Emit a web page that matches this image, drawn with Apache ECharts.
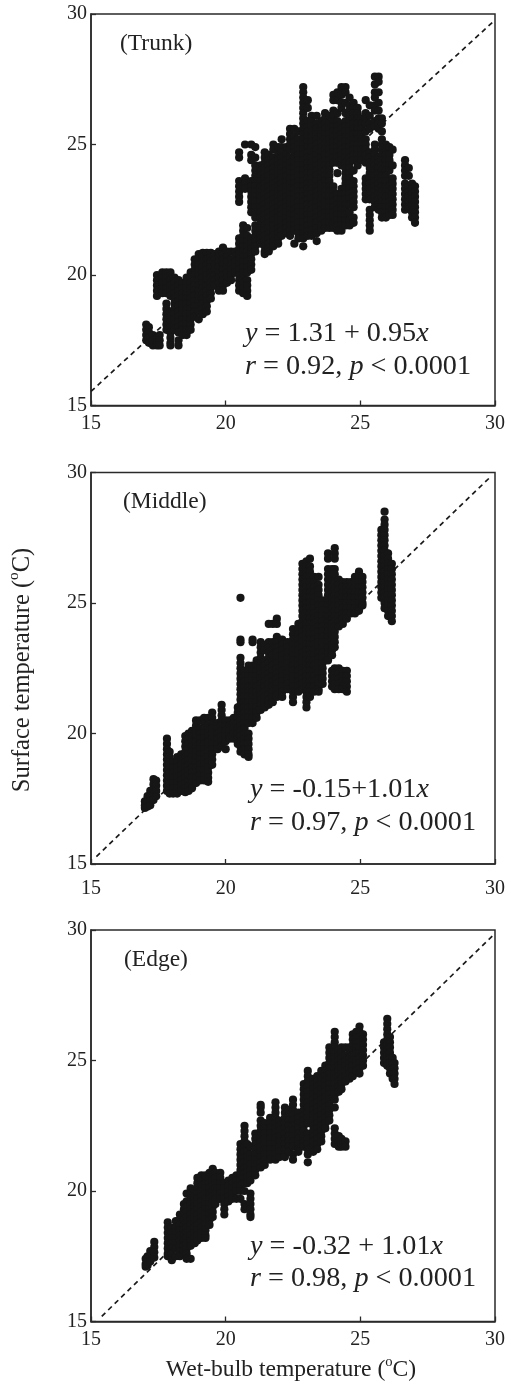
<!DOCTYPE html>
<html><head><meta charset="utf-8">
<style>html,body{margin:0;padding:0;background:#fff}#c{width:511px;height:1385px}</style>
<script src="https://cdn.jsdelivr.net/npm/echarts@6/dist/echarts.min.js"></script>
</head><body><div id="c"></div>
<script>
const axisTicks = [15, 20, 25, 30];
const panelNames = ['(Trunk)', '(Middle)', '(Edge)'];
const yName = 'Surface temperature (';
const xName = 'Wet-bulb temperature (';
const eqTexts = [
  ['{i|y} = 1.31 + 0.95{i|x}', '{i|r} = 0.92, {i|p} < 0.0001'],
  ['{i|y} = -0.15+1.01{i|x}', '{i|r} = 0.97, {i|p} < 0.0001'],
  ['{i|y} = -0.32 + 1.01{i|x}', '{i|r} = 0.98, {i|p} < 0.0001']
];
const trunkLine = [[15, 15.54], [30, 29.77]];
const middleLine = [[15.2, 15.28], [29.85, 29.85]];
const edgeLine = [[15.4, 15.2], [30, 29.87]];

const trunkColumns = [
[17.05,[18.1,17.9,17.7,17.5]],[17.15,[18,17.8,17.6,17.4]],[17.3,[17.7,17.5,17.3]],
[17.45,[20,19.8,19.6,19.4,19.2,17.6,17.4,17.3]],[17.55,[17.7,17.5,17.3]],
[17.65,[20.1,19.9,19.7,19.5,19.3]],
[17.8,[20.1,19.9,19.7,19.5,19.3,18.9,18.7,18.5,18.3,18.1,17.9]],
[17.95,[20.1,19.8,19.6,19.4,19.2,18.6,18.4,18.2,18,17.8,17.6,17.4,17.3]],
[18.1,[19.9,19.7,19.5,19.3,19.1,18.9,18.7,18.5,18.3,18.1,17.9]],
[18.25,[19.8,19.6,19.4,19.2,19,18.8,18.6,18.4,18.2,18,17.8,17.5,17.3]],
[18.4,[19.7,19.5,19.3,19.1,18.9,18.7,18.5,18.3,18.1,17.9,17.7]],
[18.55,[19.9,19.7,19.5,19.3,19.1,18.9,18.7,18.5,18.3,18.1,17.9,17.7]],
[18.7,[20.1,19.9,19.7,19.5,19.3,19.1,18.9,18.7,18.5,18.3,18.1,17.9]],
[18.85,[20.6,20.4,20.2,20,19.8,19.6,19.4,19.2,19,18.8,18.6,18.4]],
[19,[20.8,20.6,20.4,20.2,20,19.8,19.6,19.4,19.2,19,18.8,18.6,18.3]],
[19.15,[20.85,20.7,20.5,20.3,20.1,19.9,19.7,19.5,19.3,19.1,18.9,18.7,18.5]],
[19.3,[20.85,20.6,20.4,20.2,20,19.8,19.6,19.4,19.2,19,18.8,18.6]],
[19.45,[20.85,20.7,20.5,20.3,20.1,19.9,19.7,19.5,19.3,19.1]],
[19.6,[20.8,20.6,20.4,20.2,20,19.8,19.6]],
[19.75,[20.9,20.7,20.5,20.3,20.1,19.9,19.7,19.4]],
[19.9,[21.05,20.8,20.6,20.4,20.2,20,19.8,19.6,19.4]],
[20.05,[20.9,20.7,20.5,20.3,20.1,19.9,19.7]],
[20.2,[20.9,20.6,20.4,20.2,20,19.8]],
[20.35,[20.9,20.7,20.5,20.3,20.1]],
[20.5,[24.7,24.5,23.6,23.4,23.2,23,22.8,21.4,21.2,21,20.8,20.6,20.4,20.2,20,19.8,19.6,19.4]],
[20.65,[21.9,21.7,21.5,21.3,21.1,20.9,20.7,20.5,20.3,20.1,19.9,19.7,19.5,19.3]],
[20.72,[25,23.7,23.5,23.3]],
[20.8,[21.8,21.5,21.3,21.1,20.9,20.7,20.5,20.3,20.1,19.8,19.6,19.4,19.2]],
[20.95,[25,24.6,24.4,23.6,23.4,23.2,23,22.8,22.6,22.4,21.4,21.2,21,20.8,20.6,20.4,20.2]],
[21.1,[24.9,24.5,24.2,24,23.8,23.6,23.4,23.2,23,22.8,22.6,22.4,22.2,21.9,21.7,21.5,21.3,21.1,20.9]],
[21.3,[24.2,24,23.8,23.6,23.4,23.2,23,22.8,22.6,22.4,22.2,22,21.8,21.6,21.4,21.2]],
[21.45,[24.7,24.5,24.3,24.1,23.9,23.7,23.5,23.3,23.1,22.9,22.7,22.5,22.3,22.1,21.9,21.7,21.5,21.3,21.1,20.9,20.8]],
[21.6,[24.6,24.4,24.2,24,23.8,23.6,23.4,23.2,23,22.8,22.6,22.4,22.2,22,21.8,21.6,21.4,21.2,21,20.9]],
[21.77,[25,24.8,24.5,24.3,24.1,23.9,23.7,23.5,23.3,23.1,22.9,22.7,22.5,22.3,22.1,21.9,21.7,21.5,21.3,21.1]],
[21.95,[24.9,24.6,24.4,24.2,24,23.8,23.6,23.4,23.2,23,22.8,22.6,22.4,22.2,22,21.8,21.6,21.4,21.2]],
[22.08,[25.2,24.9,24.7,24.5,24.3,24.1,23.9,23.7,23.5,23.3,23.1,22.9,22.7,22.5,22.3,22.1,21.9,21.7,21.5]],
[22.25,[24.9,24.6,24.4,24.2,24,23.8,23.6,23.4,23.2,23,22.8,22.6,22.4,22.2,22,21.8,21.6]],
[22.39,[25.6,25.4,25.2,25,24.8,24.5,24.3,24.1,23.9,23.7,23.5,23.3,23.1,22.9,22.7,22.5,22.3,22.1,21.9,21.7,21.5]],
[22.55,[25.6,25.3,25.1,24.9,24.7,24.5,24.3,24.1,23.9,23.7,23.5,23.3,23.1,22.9,22.7,22.5,22.3,22.1,21.9,21.7,21.2]],
[22.7,[25.5,25.2,25,24.8,24.6,24.4,24.2,24,23.8,23.6,23.4,23.2,23,22.8,22.6,22.4,22.2,22,21.8,21.6,21.4]],
[22.88,[27.2,27,26.8,26.6,26.4,26.2,26,25.8,25.6,25.4,25.2,25,24.8,24.6,24.4,24.2,24,23.8,23.6,23.4,23.2,23,22.8,22.6,22.4,22.2,22,21.8,21.6,21.4,21.1]],
[23.05,[26.7,26.4,25.9,25.7,25.5,25.3,25.1,24.9,24.7,24.5,24.3,24.1,23.9,23.7,23.5,23.3,23.1,22.9,22.7,22.5,22.3,22.1,21.9,21.7,21.5]],
[23.19,[26.1,25.9,25.7,25.5,25.3,25.1,24.9,24.7,24.5,24.3,24.1,23.9,23.7,23.5,23.3,23.1,22.9,22.7,22.5,22.3,22.1,21.9,21.7,21.5]],
[23.38,[26.1,25.8,25.6,25.4,25.2,25,24.8,24.6,24.4,24.2,24,23.8,23.6,23.4,23.2,23,22.8,22.6,22.4,22.2,22,21.8,21.6,21.3]],
[23.55,[25.9,25.7,25.5,25.3,25.1,24.9,24.7,24.5,24.3,24.1,23.9,23.7,23.5,23.3,23.1,22.9,22.7,22.5,22.3,22.1,21.9,21.7]],
[23.69,[26.2,26,25.8,25.6,25.4,25.2,25,24.8,24.6,24.4,24.2,24,23.8,23.6,23.4,23.2,23,22.8,22.6,22.4,22.2,22,21.8]],
[23.85,[26.1,25.8,25.6,25.4,25.2,25,24.8,24.6,24.4,24.2,24,23.8,23.6,23.4,23.2,23,22.8,22.6,22.4,22.2,22,21.8]],
[24,[26.9,26.7,26.3,26.1,25.9,25.7,25.5,25.3,25.1,24.9,24.7,24.5,24.3,23.4,23.2,23,22.8,22.6,22.4,22.2,22,21.8]],
[24.15,[27,26.7,26.2,25.9,25.7,25.5,25.3,25.1,24.9,24.7,24.5,24.3,23.9,23.1,22.9,22.7,22.5,22.3,22.1,21.9,21.7]],
[24.3,[27.2,26.9,26.6,26.4,25.8,25.6,25.4,25.2,25,24.8,24.6,24.4,24.2,23.3,23.1,22.9,22.7,22.5,22.3,22.1,21.9,21.7]],
[24.45,[27.2,27,26.6,26.2,25.9,25.7,25.5,25.3,25.1,24.9,24.7,24.5,24.3,24.1,23.9,23.7,23.5,23.3,23.1,22.9,22.7,22.5,22.3,22.1,21.9]],
[24.6,[26.8,26.5,26.3,26.1,25.9,25.7,25.5,25.3,25.1,24.9,24.7,24.5,24.3,24.1,23.9,23.7,23.5,23.3,23.1,22.9,22.7,22.4,22.1,21.9]],
[24.75,[26.6,26.4,26.2,26,25.8,25.6,25.4,25.2,25,24.8,24.6,24.4,24,23.6,23.4,23.2,23,22.8,22.6,22.2,22]],
[24.9,[26.4,26.2,26,25.8,25.6,25.4,25.2,25,24.8,24.6,24.4,24.2]],
[25.05,[26,25.8,25.6,25.4,25.2,25,24.8,24.6,24.4]],
[25.2,[26.7,26.2,26,25.8,25.5,25.2,25,24.8,24.6,24.3,23.7,23.5,23.3,23.1,22.9]],
[25.35,[26.5,26.1,25.8,25.6,24.7,24.5,24.3,24.1,23.9,23.7,23.5,23.3,23.1,22.9,22.5,22.3,22.1,21.9,21.7]],
[25.54,[27.6,27.3,27,26.8,26.5,26.3,25.9,25.7,25,24.8,24.6,24.4,24.2,24,23.8,23.6,23.4,23.2,23,22.8,22.6]],
[25.68,[27.6,27.4,27,26.6,26.3,26,25.8,25.6,24.5,24.3,24.1,23.9,23.7,23.5,23.3,23.1,22.9,22.7,22.5]],
[25.8,[26,25.8,25.5,25.2,25,24.8,24.6,24.4,24.2,24,23.8,23.6,23.4,23.2,23,22.8,22.6,22.4,22.2]],
[25.95,[25,24.8,24.6,24.4,24.2,24,23.8,23.6,23.4,23.2,23,22.8,22.6,22.4,22.2]],
[26.08,[24.9,24.6,24.4,24.2,24,23.4,23.2,23,22.8,22.6,22.4,22.3]],
[26.2,[24.8,24.2,23.7,23.5,23.3,23.1,22.9,22.7,22.5,22.3]],
[26.66,[24.4,24.2,24,23.8,23.5,23.3,23.1,22.9,22.7,22.5]],
[26.8,[24.1,23.8,23.4,23.2,23,22.8,22.6]],
[26.92,[23.5,23.3,23.1,22.9,22.7,22.4,22.2]],
[27.03,[23.4,23.2,23,22.8,22.6,22.4,22.2,22]]
];

const middleColumns = [
[17,[17.4,17.25,17.15]],[17.1,[17.6,17.4,17.2]],[17.2,[17.8,17.6,17.4,17.25]],
[17.32,[18.25,18.05,17.85,17.65,17.45]],[17.42,[18.2,18,17.8,17.6]],
[17.82,[19.8,19.6,19.4,19.2,19,18.8,18.6,18.4,18.2,18,17.8]],
[17.92,[19.3,19.1,18.9,18.7,18.5,18.3,18.1,17.9,17.7]],
[18.05,[18.9,18.7,18.5,18.3,18.1,17.9,17.7]],
[18.2,[19.1,18.9,18.7,18.5,18.3,18.1,17.9,17.7]],
[18.35,[19.2,19,18.8,18.6,18.4,18.2,18,17.8]],
[18.5,[19.9,19.7,19.5,19.3,19.1,18.9,18.7,18.5,18.3,18.1,17.9,17.75]],
[18.62,[20,19.8,19.6,19.4,19.2,19,18.8,18.6,18.4,18.2,18,17.8]],
[18.75,[20.1,19.9,19.7,19.5,19.3,19.1,18.9,18.7,18.5,18.3,18.1,17.9]],
[18.9,[20.5,20.3,20.1,19.9,19.7,19.5,19.3,19.1,18.9,18.7,18.5,18.3,18.1]],
[19.05,[20.5,20.2,20,19.8,19.6,19.4,19.2,19,18.8,18.6,18.4,18.2]],
[19.2,[20.6,20.4,20.2,20,19.8,19.6,19.4,19.2,19,18.8,18.6,18.4,18.2]],
[19.35,[20.6,20.3,20.1,19.9,19.7,19.5,19.3,19.1,18.9,18.7,18.5,18.3,18.15]],
[19.5,[20.8,20.6,20.4,20.2,20,19.8,19.6,19.4,19.2,19,18.8]],
[19.7,[20.4,20.2,20,19.8,19.6,19.4]],
[19.85,[21.1,20.9,20.7,20.5,20.3,20.1,19.9,19.7,19.5]],
[20,[20.5,20.3,20.1,19.9,19.7,19.4]],
[20.15,[20.5,20.3,20.1,19.9,19.8]],
[20.3,[20.6,20.4,20.2,20,19.8]],
[20.45,[21,20.8,20.6,20.4,20.2,20,19.8,19.6]],
[20.55,[25.2,23.6,23.5,22.9,22.7,22.5,22.3,22.1,21.9,21.7,21.5,21.3,21.1,20.9,20.7,20.5,20.3,20.1,19.9,19.7,19.5,19.3]],
[20.7,[22.4,22.2,22,21.8,21.6,21.4,21.2,21,20.8,20.6,20.4,20.2,20,19.8,19.6,19.4,19.2]],
[20.85,[22.6,22.4,22.2,22,21.8,21.6,21.4,21.2,21,20.8,20.6,20.4,20,19.8,19.6,19.4,19.2,19.1]],
[21,[23.6,23.5,22.6,22.4,22.2,22,21.8,21.6,21.4,21.2,21,20.8,20.6,20.4]],
[21.15,[22.8,22.6,22.4,22.2,22,21.8,21.6,21.4,21.2,21,20.8,20.6]],
[21.3,[23.5,23.3,23.1,22.9,22.7,22.5,22.3,22.1,21.9,21.7,21.5,21.3,21.1,20.9]],
[21.45,[23.4,23.2,22.8,22.6,22.4,22.2,22,21.8,21.6,21.4,21.2,21]],
[21.6,[24.2,23.5,23.3,23.1,22.9,22.7,22.5,22.3,22.1,21.9,21.7,21.5,21.3,21.1]],
[21.75,[24.2,23.5,23.2,23,22.8,22.6,22.4,22.2,22,21.8,21.6,21.4,21.2]],
[21.9,[24.4,24.2,23.7,23.5,23.3,23.1,22.9,22.7,22.5,22.3,22.1,21.9,21.7,21.5,21.4]],
[22.1,[23.6,23.4,23.2,23,22.8,22.6,22.4,22.2,22,21.8,21.6,21.4]],
[22.3,[23.5,23.3,23.1,22.9,22.7,22.5,22.3,22.1,21.9,21.7]],
[22.5,[24,23.8,23.6,23.4,23.2,23,22.8,22.6,22.4,22.2,22,21.8,21.6,21.4,21.2]],
[22.7,[24.2,24,23.8,23.6,23.4,23.2,23,22.8,22.6,22.4,22.2,22,21.8,21.6]],
[22.85,[26.5,26.3,26.1,25.9,25.7,25.5,25.3,25.1,24.9,24.7,24.5,24.3,24.1,23.9,23.7,23.5,23.3,23.1,22.9,22.7,22.5,22.3,22.1,21.9,21.7]],
[23,[26.6,26.4,26.2,26,25.8,25.6,25.4,25.2,25,24.8,24.6,24.4,24.2,24,23.8,23.6,23.4,23.2,23,22.8,22.6,22.4,22.2,22,21.8,21.6,21.4,21.2,21]],
[23.13,[26.7,26.4,26.2,26,25.8,25.6,25.4,25.2,25,24.8,24.6,24.4,24.2,24,23.8,23.6,23.4,23.2,23,22.8,22.6,22.4,22.2,22,21.8,21.6,21.4]],
[23.28,[26,25.8,25.6,25.4,25.2,25,24.8,24.6,24.4,24.2,24,23.8,23.6,23.4,23.2,23,22.8,22.6,22.4,22.2,22,21.8,21.6]],
[23.45,[26,25.7,25.5,25.3,25.1,24.9,24.7,24.5,24.3,24.1,23.9,23.7,23.5,23.3,23.1,22.9,22.7,22.5,22.3,22.1,21.9,21.7,21.6]],
[23.6,[25.1,24.9,24.7,24.5,24.3,24.1,23.9,23.7,23.5,23.3,23.1,22.9,22.7,22.5,22.3,22.1,21.9]],
[23.8,[26.9,26.7,26.3,26.1,25.9,25.7,25.5,25.3,25.1,24.9,24.7,24.5,24.3,24.1,23.9,23.7,23.5,23.3,23.1,22.9,22.8]],
[23.95,[26.3,26.1,25.9,25.6,25.4,25.2,25,24.8,24.6,24.4,24.2,24,23.8,23.6,23.4,23.2,23,22.4,22.2,22,21.8]],
[24.05,[27.1,26.9,26.7,26.3,26.1,25.8,25.5,25.3,25.1,24.9,24.7,24.5,24.3,24.1,23.9,23.7,23.5,23.3,22.5,22.3,22.1,21.9,21.7]],
[24.2,[25.9,25.7,25.5,25.3,25.1,24.9,24.7,24.5,24.3,24.1,22.5,22.3,22.1,21.9,21.7]],
[24.35,[25.8,25.6,25.4,25.2,25,24.8,24.6,24.4,24.2,22.4,22.2,22,21.8,21.7]],
[24.5,[25.8,25.6,25.4,25.2,25,24.8,24.6,24.4,22.4,22.2,22,21.8,21.6]],
[24.65,[25.8,25.6,25.4,25.2,25,24.8,24.6]],
[24.8,[26,25.8,25.6,25.4,25.2,25,24.8,24.6]],
[24.95,[26.2,26,25.8,25.6,25.4,25.2,25,24.8,24.7]],
[25.08,[26,25.8,25.6,25.4,25.2,25,24.9]],
[25.78,[27.8,27.6,27.4,27.2,27,26.8,26.6,26.4,26.2,26,25.8,25.6,25.4,25.2]],
[25.9,[28.5,28.2,28,27.8,27.6,27.4,27.2,27,26.8,26.6,26.4,26.2,26,25.8,25.6,25.4,25.2,25,24.8]],
[26.03,[26.9,26.7,26.5,26.3,26.1,25.9,25.7,25.5,25.3,25.1,24.9,24.7,24.5]],
[26.17,[26.5,26.3,26.1,25.9,25.7,25.5,25.3,25.1,24.9,24.7,24.5,24.3]]
];

const edgeColumns = [
[17.03,[17.4,17.2,17.1]],[17.1,[17.5,17.3,17.15]],[17.2,[17.7,17.5,17.3]],
[17.35,[18.05,17.85,17.65,17.45]],
[17.85,[18.8,18.6,18.4,18.2,18,17.8,17.6,17.5]],
[18,[18.6,18.4,18.2,18,17.8,17.6,17.35]],
[18.15,[18.85,18.6,18.4,18.2,18,17.8,17.5]],
[18.3,[19.1,18.9,18.7,18.5,18.3,18.1,17.9,17.7,17.5]],
[18.45,[19.5,19.3,19.1,18.9,18.7,18.5,18.3,18.1,17.9,17.7]],
[18.55,[19.9,19.6,19.4,19.2,19,18.8,18.6,18.4,18.2,18,17.8,17.6,17.4]],
[18.7,[20.1,19.9,19.7,19.5,19.3,19.1,18.9,18.7,18.5,18.3,18.1,17.9,17.4]],
[18.85,[20,19.8,19.6,19.4,19.2,19,18.8,18.6,18.4,18.2,18]],
[18.95,[20.5,20.3,20.1,19.9,19.7,19.5,19.3,19.1,18.9,18.7,18.5,18.3,18.1]],
[19.1,[20.6,20.4,20.2,20,19.8,19.6,19.4,19.2,19,18.8,18.6,18.4,18.2]],
[19.25,[20.6,20.3,20.1,19.9,19.7,19.5,19.3,19.1,18.9,18.7,18.5,18.3,18.2]],
[19.4,[20.7,20.5,20.3,20.1,19.9,19.7,19.5,19.3,19.1,18.9,18.7]],
[19.52,[20.85,20.6,20.4,20.2,20,19.8,19.6,19.4,19.2,19]],
[19.62,[20.7,20.5,20.3,20.1,19.9,19.7,19.5]],
[19.8,[20.7,20.5,20.3,20.1,19.9,19.7]],
[19.95,[20.3,20.1,19.9,19.7,19.5,19.3,19.1]],
[20.1,[20.4,20.2,20,19.8,19.6]],
[20.25,[20.5,20.3,20.1,19.9,19.7]],
[20.4,[20.6,20.4,20.2,20,19.7]],
[20.55,[21.8,21.6,21.4,21.2,21,20.8,20.6,20.4,20.2,20,19.7]],
[20.7,[22.5,22.3,22.1,21.9,21.7,21.5,21.3,21.1,20.9,20.7,20.5,20.3,20,19.5,19.3]],
[20.8,[21.8,21.5,21.3,21.1,20.9,20.7,20.5,20.3,19.4]],
[20.92,[21.7,21.4,21.2,21,20.8,20.6,20.4,19.9,19.7,19.5,19.3,19.1,19]],
[21.1,[22.2,22,21.8,21.6,21.4,21.2,21,20.8,20.6]],
[21.3,[23.3,23.2,23,22.7,22.5,22.3,22.1,21.9,21.7,21.5,21.3,21.1,20.9]],
[21.45,[22.6,22.4,22.2,22,21.8,21.6,21.4,21.2,21]],
[21.65,[22.8,22.6,22.4,22.2,22,21.8,21.6,21.4,21.2]],
[21.85,[23.4,23.2,23,22.8,22.6,22.4,22.2,22,21.8,21.6,21.4,21.2]],
[22,[22.7,22.5,22.3,22.1,21.9,21.7,21.5,21.3]],
[22.2,[23.2,23,22.8,22.6,22.4,22.2,22,21.8,21.6,21.4,21.3]],
[22.35,[23.1,22.9,22.7,22.5,22.3,22.1,21.9,21.7,21.5]],
[22.5,[23.5,23.3,23.1,22.9,22.7,22.5,22.3,22.1,21.9,21.7,21.4,21.2]],
[22.7,[23,22.8,22.6,22.4,22.2,22,21.8,21.6,21.5]],
[22.9,[24.1,23.9,23.7,23.5,23.3,23.1,22.9,22.7,22.5,22.3,22.1,21.9,21.7]],
[23.05,[24.6,24.4,24.2,24,23.8,23.6,23.4,23.2,23,22.8,22.6,22.2,22,21.8,21.6,21.4,21.1]],
[23.25,[24.3,24.1,23.9,23.7,23.5,23.3,23.1,22.9,22.7,22.5,22.3,22.1,21.9,21.7,21.5]],
[23.4,[24.4,24.2,24,23.8,23.6,23.4,23.2,23,22.8,22.6,22.4,22.2,22,21.8,21.6]],
[23.55,[24.6,24.3,24.1,23.9,23.7,23.5,23.3,23.1,22.9,22.7,22.5,22.3,22.1,21.9]],
[23.7,[24.8,24.6,24.4,24.2,24,23.8,23.6,23.4,23.2,23,22.8,22.6,22.4]],
[23.85,[25.5,25.3,25.1,24.9,24.7,24.5,24.3,24.1,23.9,23.7,23.5,23.3,23.1,22.9,22.7]],
[24.05,[26.1,25.9,25.7,25.5,25.3,25.1,24.9,24.7,24.5,24.3,24.1,23.9,23.7,23.5,23.2,22.4,22.2,22,21.8]],
[24.2,[25.4,25.2,25,24.8,24.6,24.4,24.2,24,23.8,22.1,21.9,21.7]],
[24.3,[25.5,25.3,25.1,24.9,24.7,24.5,24.3,24.1,23.9,22,21.8,21.7]],
[24.45,[25.5,25.2,25,24.8,24.6,24.4,24.2,21.9,21.7]],
[24.6,[25.5,25.3,25.1,24.9,24.7,24.5,24.3]],
[24.72,[26,25.8,25.6,25.4,25.2,25,24.8,24.6,24.4]],
[24.85,[26.1,25.9,25.7,25.5,25.3,25,24.8,24.6]],
[24.97,[26.3,26.1,25.9,25.7,25.5,25.3,25.1,24.9,24.7,24.5]],
[25.1,[26,25.8,25.6,25.4,25.2,25,24.8]],
[25.88,[25.7,25.5,25.3,25.1,24.9]],
[26,[26.6,26.4,26.2,26,25.8,25.6,25.4,25.2,25,24.8]],
[26.1,[25.9,25.7,25.5,25.3,25.1,24.9,24.7,24.5]],
[26.2,[25.1,24.9,24.7,24.5,24.3]],
[26.27,[24.9,24.7,24.5,24.3,24.1]]
];

const flatten = cols => cols.flatMap(c => c[1].map(y => [c[0], y]));
const font = '"Liberation Serif","Times New Roman",serif';
const ink = '#161616';
const textInk = '#222';
const grids = [
  {left: 91, top: 14, width: 404, height: 391.5},
  {left: 91, top: 472.5, width: 404, height: 391.5},
  {left: 91, top: 930, width: 404, height: 391.5}
];
const labelMargins = [8, 15, 8];
const columnSets = [trunkColumns, middleColumns, edgeColumns];
const lineSets = [trunkLine, middleLine, edgeLine];

const axisBase = i => ({
  type: 'value', gridIndex: i, min: 15, max: 30, interval: 5,
  splitLine: {show: false},
  axisLine: {show: true, lineStyle: {color: '#2a2a2a', width: 1.5}},
  axisTick: {show: true, inside: true, length: 5, lineStyle: {color: '#2a2a2a', width: 1.3}}
});
const labelBase = {show: true, color: textInk, fontFamily: font, fontSize: 20, showMinLabel: true, showMaxLabel: true, hideOverlap: false};

const option = {
  animation: false,
  backgroundColor: '#fff',
  grid: grids.map(g => ({...g, show: true, borderColor: '#2a2a2a', borderWidth: 1.5, backgroundColor: 'transparent'})),
  xAxis: grids.map((g, i) => ({...axisBase(i), axisLabel: {...labelBase, margin: labelMargins[i]}})),
  yAxis: grids.map((g, i) => ({...axisBase(i), axisLabel: {...labelBase, margin: 4}})),
  series: grids.flatMap((g, i) => [
    {type: 'line', xAxisIndex: i, yAxisIndex: i, data: lineSets[i], symbol: 'none', silent: true, z: 1,
     lineStyle: {color: '#1a1a1a', width: 1.7, type: [5, 4]}},
    {type: 'scatter', xAxisIndex: i, yAxisIndex: i, data: flatten(columnSets[i]), symbol: 'circle', symbolSize: 8.2, z: 2,
     itemStyle: {color: ink, opacity: 1}}
  ]),
  graphic: {elements: []}
};

const plain = (x, y, text, size) => ({type: 'text', x, y, z: 10, silent: true, style: {
  text, fill: textInk, font: size + 'px ' + font, textAlign: 'left', textVerticalAlign: 'middle',
  rich: {i: {fontStyle: 'italic', fontFamily: font, fontSize: size, fill: textInk}}
}});
const supRich = size => ({
  n: {fontFamily: font, fontSize: size, fill: textInk, lineHeight: size + 4, verticalAlign: 'bottom'},
  s: {fontFamily: font, fontSize: size * 0.62, fill: textInk, lineHeight: size + 4, verticalAlign: 'top'}
});
const labelPos = [[120, 44], [123, 502], [124, 960]];
const eqPos = [[[245, 334], [245, 367]], [[250, 790], [250, 823]], [[250, 1247], [250, 1279]]];
panelNames.forEach((n, i) => {
  option.graphic.elements.push(plain(labelPos[i][0], labelPos[i][1], n, 23.5));
  eqTexts[i].forEach((t, j) => option.graphic.elements.push(plain(eqPos[i][j][0], eqPos[i][j][1], t, 28.2)));
});
option.graphic.elements.push({type: 'text', x: 291, y: 1368, z: 10, silent: true, style: {
  text: '{n|' + xName + '}{s|o}{n|C)}', textAlign: 'center', textVerticalAlign: 'middle', rich: supRich(23.6)
}});
option.graphic.elements.push({type: 'text', x: 21, y: 670, rotation: Math.PI / 2, z: 10, silent: true, style: {
  text: '{n|' + yName + '}{s|o}{n|C)}', textAlign: 'center', textVerticalAlign: 'middle', rich: supRich(24.5)
}});
echarts.init(document.getElementById('c'), null, {renderer: 'canvas'}).setOption(option);
</script></body></html>
